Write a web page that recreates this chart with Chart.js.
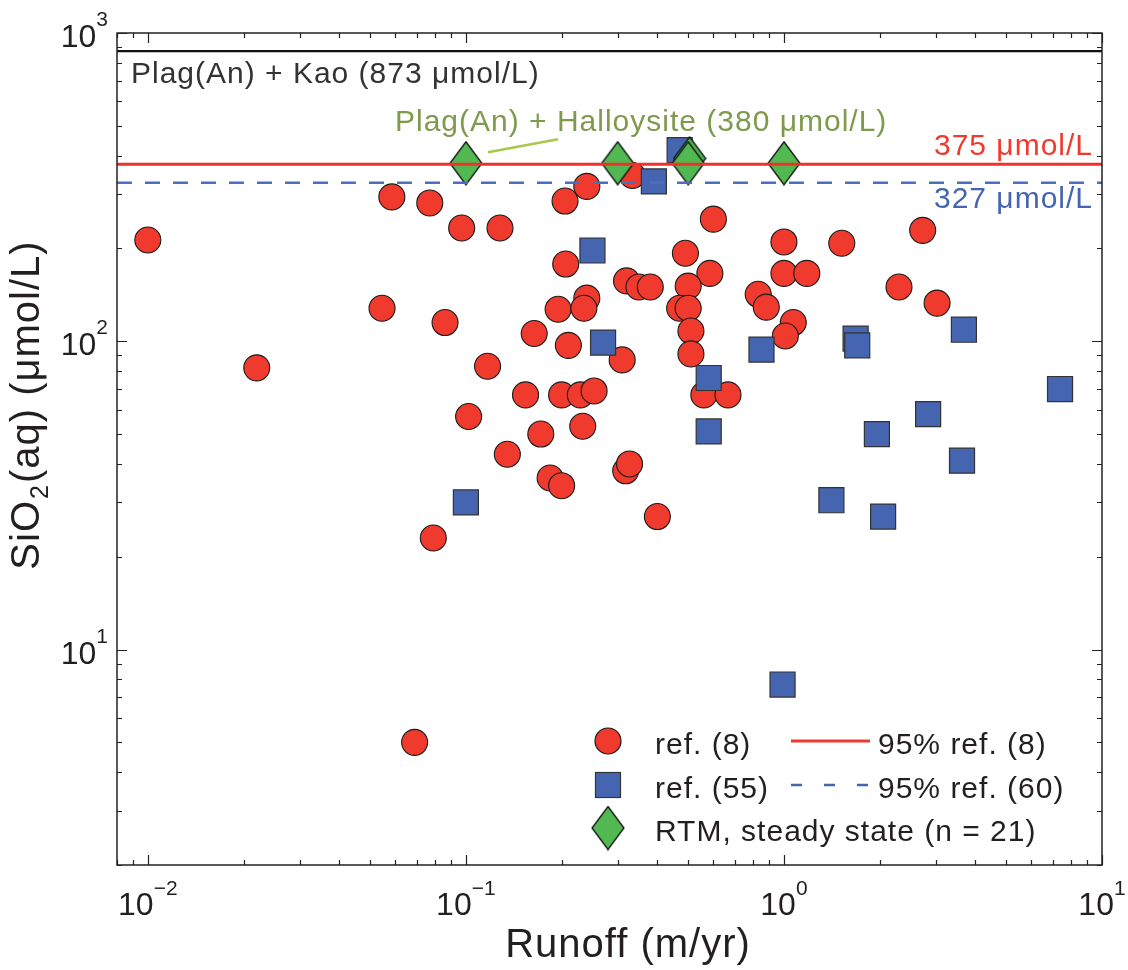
<!DOCTYPE html>
<html>
<head>
<meta charset="utf-8">
<script src="https://cdn.jsdelivr.net/npm/chart.js@4.4.1/dist/chart.umd.min.js"></script>
<style>
  html, body { margin: 0; padding: 0; background: #fff; }
  canvas { display: block; }
</style>
</head>
<body>
<canvas id="chart" width="1128" height="970"></canvas>
<script>
// ref. (8) - red circles
const ref8Runoff = [0.01, 0.022, 0.0545, 0.0585, 0.077, 0.079, 0.069, 0.086, 0.097, 0.102,
  0.117, 0.128, 0.135, 0.154, 0.164, 0.172, 0.184, 0.2, 0.2, 0.195,
  0.21, 0.206, 0.205, 0.24, 0.24, 0.235, 0.229, 0.253, 0.233, 0.31,
  0.32, 0.318, 0.327, 0.334, 0.35, 0.38, 0.40, 0.49, 0.60, 0.585,
  0.50, 0.47, 0.50, 0.51, 0.51, 0.56, 0.667, 1.0, 1.52, 1.0,
  1.18, 0.83, 0.88, 1.07, 1.01, 2.73, 2.30, 3.03];
const ref8SiO2 = [213, 82, 128, 294, 281, 23, 5.0, 115, 233, 57,
  83, 233, 43, 67, 106, 50, 36, 34, 67, 127,
  97, 178, 285, 318, 138, 128, 67, 69, 53, 87,
  157, 38, 40, 345, 150, 150, 27, 193, 249, 166,
  151, 128, 128, 108, 91, 67, 67, 210, 208, 166,
  166, 142, 129, 115, 104, 229, 150, 133];

// ref. (55) - blue squares
const ref55Runoff = [0.1, 0.25, 0.27, 0.39, 0.47, 0.58, 0.58, 0.85, 0.99, 1.41, 1.68, 1.70, 1.96, 2.05, 2.84, 3.68, 3.63, 7.38];
const ref55SiO2 = [30, 197, 99, 330, 417, 76, 51, 94, 7.7, 30.5, 102, 97, 50, 27, 58, 109, 41, 70];

// RTM steady state - green diamonds
const rtmRunoff = [0.1, 0.3, 0.505, 0.5, 1.0];
const rtmSiO2 = [378, 378, 392, 378, 378];

// horizontal levels (umol/L)
const kaoLevel = 873;
const ref8Level = 375;
const ref60Level = 327;

// axes
const xRange = [0.008, 10];
const yRange = [2, 1000];
const xTickExps = [-2, -1, 0, 1];
const yTickExps = [1, 2, 3];

const RED = '#F03A2E';
const BLUE = '#4565B0';
const GREEN = '#52B852';
const FONT = "'Liberation Sans', Arial, Helvetica, sans-serif";

function pts(xs, ys) {
  return xs.map((x, i) => ({ x: x, y: ys[i] }));
}

function level(v) {
  return [{ x: xRange[0], y: v }, { x: xRange[1], y: v }];
}

// вытянутый ромб как у matlab
function diamondCanvas(w, h) {
  const c = document.createElement('canvas');
  c.width = w + 2;
  c.height = h + 2;
  const g = c.getContext('2d');
  g.beginPath();
  g.moveTo(c.width / 2, 1);
  g.lineTo(c.width - 1, c.height / 2);
  g.lineTo(c.width / 2, c.height - 1);
  g.lineTo(1, c.height / 2);
  g.closePath();
  g.fillStyle = GREEN;
  g.fill();
  g.lineWidth = 1.3;
  g.strokeStyle = '#111';
  g.stroke();
  return c;
}
const diamond = diamondCanvas(32, 43);

function logTicks(min, max) {
  const out = [];
  for (let e = Math.floor(Math.log10(min)); e <= Math.ceil(Math.log10(max)); e++) {
    for (let m = 1; m <= 9; m++) {
      const v = m * Math.pow(10, e);
      if (v >= min * 0.999 && v <= max * 1.001) out.push({ v: v, major: m === 1 });
    }
  }
  return out;
}

function expText(e) {
  return e < 0 ? '\u2212' + Math.abs(e) : String(e);
}

const framePlugin = {
  id: 'frame',
  afterDraw(chart) {
    const ctx = chart.ctx;
    const a = chart.chartArea;
    const xs = chart.scales.x;
    const ys = chart.scales.y;
    ctx.save();

    // рамка
    ctx.strokeStyle = '#222';
    ctx.lineWidth = 1.5;
    ctx.strokeRect(a.left, a.top, a.right - a.left, a.bottom - a.top);

    // засечки внутрь по всем сторонам
    ctx.lineWidth = 1.2;
    ctx.beginPath();
    logTicks(xRange[0], xRange[1]).forEach(t => {
      const px = Math.round(xs.getPixelForValue(t.v)) + 0.5;
      const len = t.major ? 10 : 5;
      ctx.moveTo(px, a.bottom); ctx.lineTo(px, a.bottom - len);
      ctx.moveTo(px, a.top); ctx.lineTo(px, a.top + len);
    });
    logTicks(yRange[0], yRange[1]).forEach(t => {
      const py = Math.round(ys.getPixelForValue(t.v)) + 0.5;
      const len = t.major ? 10 : 5;
      ctx.moveTo(a.left, py); ctx.lineTo(a.left + len, py);
      ctx.moveTo(a.right, py); ctx.lineTo(a.right - len, py);
    });
    ctx.stroke();

    // подписи делений 10^n
    ctx.fillStyle = '#231f20';
    ctx.textBaseline = 'alphabetic';
    ctx.textAlign = 'left';
    xTickExps.forEach(e => {
      const px = xs.getPixelForValue(Math.pow(10, e));
      ctx.font = '32px ' + FONT;
      const w10 = ctx.measureText('10').width;
      ctx.font = '21px ' + FONT;
      const we = ctx.measureText(expText(e)).width;
      const x0 = px - (w10 + we) / 2;
      ctx.font = '32px ' + FONT;
      ctx.fillText('10', x0, a.bottom + 50);
      ctx.font = '21px ' + FONT;
      ctx.fillText(expText(e), x0 + w10, a.bottom + 30);
    });
    yTickExps.forEach(e => {
      const py = ys.getPixelForValue(Math.pow(10, e));
      ctx.font = '21px ' + FONT;
      const we = ctx.measureText(expText(e)).width;
      ctx.font = '32px ' + FONT;
      const w10 = ctx.measureText('10').width;
      const x1 = a.left - 9;
      ctx.fillText('10', x1 - we - w10, py + 14);
      ctx.font = '21px ' + FONT;
      ctx.fillText(expText(e), x1 - we, py - 7);
    });

    ctx.letterSpacing = '1px';

    // подписи осей
    ctx.font = '40px ' + FONT;
    ctx.textAlign = 'center';
    ctx.fillText('Runoff (m/yr)', 628, 957);

    ctx.save();
    ctx.translate(39, 405);
    ctx.rotate(-Math.PI / 2);
    ctx.textAlign = 'left';
    ctx.font = '40px ' + FONT;
    const p1 = 'SiO', p3 = '(aq) (\u03bcmol/L)';
    const w1 = ctx.measureText(p1).width;
    const w3 = ctx.measureText(p3).width;
    ctx.font = '25px ' + FONT;
    const w2 = ctx.measureText('2').width + 2;
    let x = -(w1 + w2 + w3) / 2;
    ctx.font = '40px ' + FONT;
    ctx.fillText(p1, x, 0);
    ctx.font = '25px ' + FONT;
    ctx.fillText('2', x + w1 + 1, 9);
    ctx.font = '40px ' + FONT;
    ctx.fillText(p3, x + w1 + w2, 0);
    ctx.restore();

    // надписи у линий
    const yKao = ys.getPixelForValue(kaoLevel);
    const yRed = ys.getPixelForValue(ref8Level);
    const yBlue = ys.getPixelForValue(ref60Level);
    ctx.font = '30px ' + FONT;
    ctx.textAlign = 'left';
    ctx.fillStyle = '#333';
    ctx.fillText('Plag(An) + Kao (873 \u03bcmol/L)', a.left + 14, yKao + 32);
    ctx.fillStyle = '#7E9A4C';
    ctx.fillText('Plag(An) + Halloysite (380 \u03bcmol/L)', 395, yRed - 33);
    ctx.textAlign = 'right';
    ctx.fillStyle = RED;
    ctx.fillText('375 \u03bcmol/L', a.right - 9, yRed - 9);
    ctx.fillStyle = BLUE;
    ctx.fillText('327 \u03bcmol/L', a.right - 9, yBlue + 25);

    ctx.strokeStyle = '#A8C84A';
    ctx.lineWidth = 2.5;
    ctx.beginPath();
    ctx.moveTo(488, yRed - 12);
    ctx.lineTo(558, yRed - 25);
    ctx.stroke();

    // легенда
    const lx = 608, tx = 655;
    const rows = [741, 785, 828];
    ctx.lineWidth = 1.2;
    ctx.beginPath();
    ctx.arc(lx, rows[0], 13, 0, Math.PI * 2);
    ctx.fillStyle = RED; ctx.fill();
    ctx.strokeStyle = '#1a1a1a'; ctx.stroke();
    ctx.fillStyle = BLUE;
    ctx.fillRect(lx - 12.5, rows[1] - 12.5, 25, 25);
    ctx.strokeStyle = '#333';
    ctx.strokeRect(lx - 12.5, rows[1] - 12.5, 25, 25);
    ctx.drawImage(diamond, lx - diamond.width / 2, rows[2] - diamond.height / 2);

    ctx.strokeStyle = RED;
    ctx.lineWidth = 3;
    ctx.beginPath();
    ctx.moveTo(791, rows[0]); ctx.lineTo(870, rows[0]);
    ctx.stroke();
    ctx.strokeStyle = BLUE;
    ctx.lineWidth = 2.5;
    ctx.setLineDash([11, 22]);
    ctx.beginPath();
    ctx.moveTo(791, rows[1]); ctx.lineTo(870, rows[1]);
    ctx.stroke();
    ctx.setLineDash([]);

    ctx.fillStyle = '#231f20';
    ctx.textAlign = 'left';
    ctx.font = '30px ' + FONT;
    ctx.fillText('ref. (8)', tx, rows[0] + 13);
    ctx.fillText('ref. (55)', tx, rows[1] + 13);
    ctx.fillText('RTM, steady state (n = 21)', tx, rows[2] + 13);
    ctx.fillText('95% ref. (8)', 878, rows[0] + 13);
    ctx.fillText('95% ref. (60)', 878, rows[1] + 13);

    ctx.restore();
  }
};

new Chart(document.getElementById('chart'), {
  type: 'scatter',
  data: {
    datasets: [
      {
        label: 'ref. (8)',
        data: pts(ref8Runoff, ref8SiO2),
        pointStyle: 'circle',
        pointRadius: 13,
        backgroundColor: RED,
        borderColor: '#1a1a1a',
        borderWidth: 1.1,
        order: 4
      },
      {
        label: 'ref. (55)',
        data: pts(ref55Runoff, ref55SiO2),
        pointStyle: 'rect',
        pointRadius: 17.7,
        backgroundColor: BLUE,
        borderColor: '#333',
        borderWidth: 1.2,
        order: 3
      },
      {
        label: 'RTM, steady state (n = 21)',
        data: pts(rtmRunoff, rtmSiO2),
        pointStyle: diamond,
        pointRadius: 20,
        order: 2
      },
      {
        type: 'line',
        label: 'Plag(An) + Kao',
        data: level(kaoLevel),
        borderColor: '#111',
        borderWidth: 2.3,
        pointRadius: 0,
        order: 1
      },
      {
        type: 'line',
        label: '95% ref. (8)',
        data: level(ref8Level),
        borderColor: '#F2302A',
        borderWidth: 3,
        pointRadius: 0,
        order: 0
      },
      {
        type: 'line',
        label: '95% ref. (60)',
        data: level(ref60Level),
        borderColor: '#4A6FC0',
        borderWidth: 2.5,
        borderDash: [15, 13],
        pointRadius: 0,
        order: 0
      }
    ]
  },
  options: {
    responsive: false,
    animation: false,
    events: [],
    layout: { padding: { left: 117, right: 26, top: 33, bottom: 105 } },
    plugins: {
      legend: { display: false },
      tooltip: { enabled: false }
    },
    scales: {
      x: { type: 'logarithmic', min: xRange[0], max: xRange[1], display: false },
      y: { type: 'logarithmic', min: yRange[0], max: yRange[1], display: false }
    }
  },
  plugins: [framePlugin]
});
</script>
</body>
</html>
